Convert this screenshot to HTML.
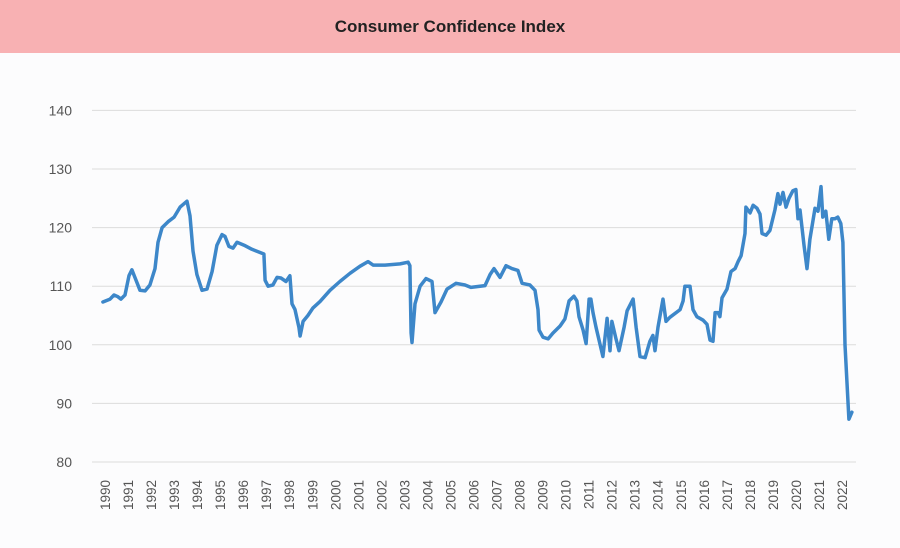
<!DOCTYPE html>
<html><head><meta charset="utf-8"><style>
body{margin:0;background:#fcfcfd;font-family:"Liberation Sans",sans-serif}
#hdr{position:absolute;left:0;top:0;width:900px;height:53px;background:#f8b1b3;display:flex;align-items:center;justify-content:center;font-weight:bold;font-size:17px;color:#222}
svg{position:absolute;left:0;top:0}
</style></head><body>
<div id="hdr">Consumer Confidence Index</div>
<svg id="c" width="900" height="548"></svg>
<script>
const yTicks=[80,90,100,110,120,130,140];
const years=[1990,1991,1992,1993,1994,1995,1996,1997,1998,1999,2000,2001,2002,2003,2004,2005,2006,2007,2008,2009,2010,2011,2012,2013,2014,2015,2016,2017,2018,2019,2020,2021,2022];
const offsets=[-0.09,0.22,0.39,0.56,0.69,0.87,1.04,1.17,1.30,1.52,1.74,1.95,2.17,2.30,2.48,2.74,3.00,3.26,3.56,3.69,3.82,3.99,4.21,4.43,4.65,4.86,5.08,5.21,5.38,5.56,5.73,6.04,6.38,6.90,6.95,7.08,7.29,7.47,7.64,7.86,8.03,8.12,8.25,8.42,8.47,8.60,8.81,9.03,9.34,9.77,10.20,10.64,11.07,11.42,11.64,12.16,12.81,13.16,13.24,13.29,13.33,13.46,13.68,13.94,14.20,14.33,14.59,14.85,15.24,15.63,15.89,16.50,16.72,16.89,17.15,17.41,17.67,17.93,18.11,18.45,18.67,18.80,18.85,19.02,19.24,19.45,19.76,19.97,20.15,20.36,20.49,20.58,20.76,20.89,21.02,21.10,21.19,21.32,21.62,21.80,21.93,22.01,22.19,22.32,22.54,22.67,22.93,23.06,23.23,23.45,23.66,23.79,23.88,24.01,24.23,24.36,24.53,24.97,25.10,25.18,25.40,25.53,25.70,25.97,26.14,26.27,26.40,26.49,26.62,26.70,26.79,27.01,27.18,27.36,27.49,27.62,27.79,27.83,28.01,28.14,28.31,28.44,28.53,28.70,28.87,29.09,29.22,29.31,29.44,29.57,29.70,29.87,30.00,30.09,30.18,30.35,30.48,30.61,30.83,30.96,31.09,31.17,31.30,31.43,31.56,31.69,31.82,31.95,32.04,32.13,32.30,32.43];
const values=[107.3,107.8,108.5,108.2,107.8,108.5,111.8,112.8,111.5,109.3,109.2,110.2,113,117.5,120,121,121.8,123.5,124.5,122,116,112,109.3,109.5,112.5,117,118.8,118.5,116.8,116.5,117.5,117,116.3,115.5,111,110,110.2,111.5,111.4,110.8,111.8,107,106,103,101.5,104,105,106.3,107.4,109.3,110.8,112.2,113.4,114.2,113.6,113.6,113.8,114.1,113.5,102,100.4,107,110,111.3,110.8,105.5,107.3,109.5,110.5,110.2,109.8,110.1,112,113,111.5,113.5,113,112.7,110.5,110.2,109.3,106,102.5,101.3,101,102,103.2,104.4,107.5,108.3,107.5,104.8,102.5,100.2,107.8,107.8,105.5,103,98,104.5,99,104,101,99,103,105.8,107.8,103,98,97.8,100.6,101.6,99,103,107.8,104,104.7,106,107.5,110,110,106,104.8,104.2,103.5,100.8,100.6,105.5,105.5,104.8,108,109.5,112.5,113,114.2,115.2,119,123.5,122.5,123.8,123.3,122.3,119,118.7,119.5,123,125.8,124,126,123.5,125,126.3,126.5,121.5,123,117,113,118,123.3,122.8,127,121.8,122.8,118,121.5,121.5,121.8,120.7,117.5,100,87.3,88.5];
const svg=document.getElementById('c'),NS='http://www.w3.org/2000/svg';
const X=t=>105+t*23.03, Y=v=>462-(v-80)*5.86;
function mk(tag,a){const e=document.createElementNS(NS,tag);for(const k in a)e.setAttribute(k,a[k]);svg.appendChild(e);return e;}
yTicks.forEach(v=>{
 const g=mk('line',{x1:92,x2:856,y1:Y(v),y2:Y(v),stroke:'#dcdcdc','stroke-width':1});
 
 
 const t=mk('text',{x:72,y:Y(v)+5,'text-anchor':'end','font-size':14,fill:'#555','font-family':'Liberation Sans, sans-serif'});
 t.textContent=v;
 
 
});
years.forEach(yr=>{
 const x=X(yr-1990)+5;
 const t=mk('text',{x:x,y:480,transform:`rotate(-90 ${x} 480)`,'text-anchor':'end','font-size':13.5,fill:'#555','font-family':'Liberation Sans, sans-serif'});
 t.textContent=yr;
 
 
});
const d=offsets.map((o,i)=>(i?'L':'M')+X(o).toFixed(1)+' '+Y(values[i]).toFixed(1)).join(' ');
const p=mk('path',{d:d,fill:'none',stroke:'#3d87c9','stroke-width':3.5,'stroke-linejoin':'round','stroke-linecap':'round'});


</script>
</body></html>
